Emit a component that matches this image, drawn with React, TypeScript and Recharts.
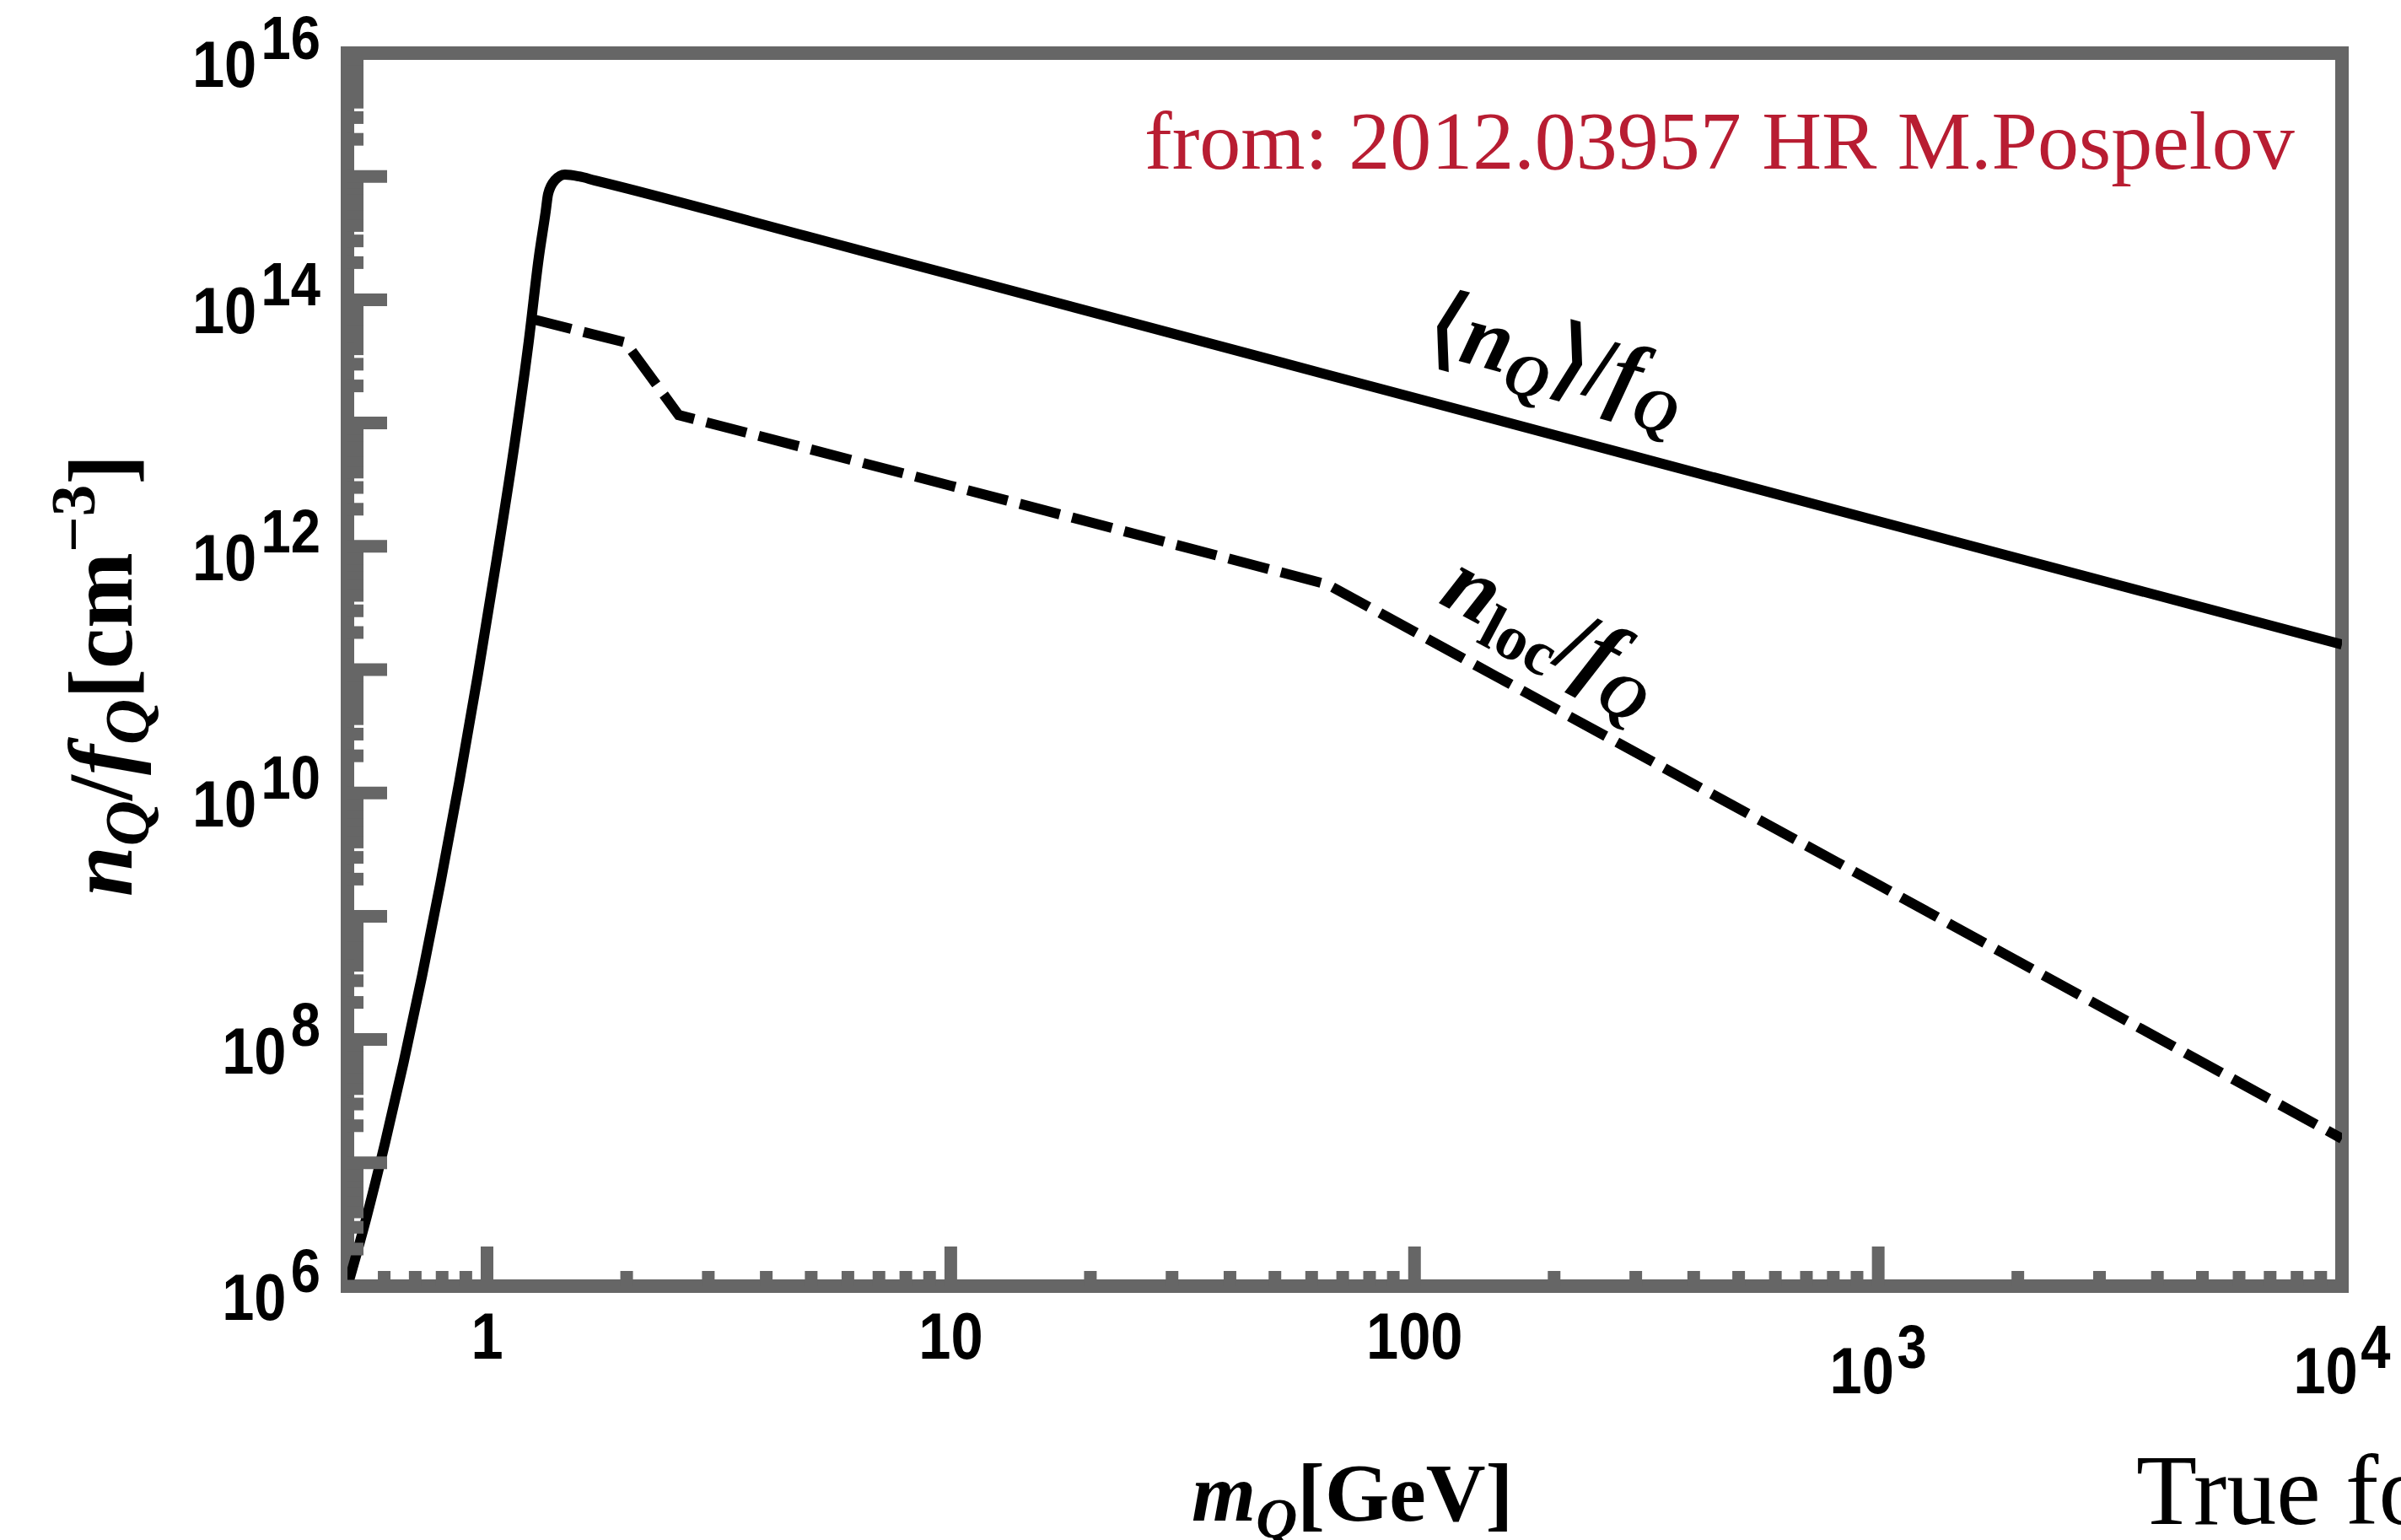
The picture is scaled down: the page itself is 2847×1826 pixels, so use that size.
import React from "react";
import { LineChart, Line, XAxis, YAxis, ReferenceArea } from "recharts";

const W = 2847;
const H = 1826;
const FRAME = "#666666";
const SERIF = "'Liberation Serif', 'Times New Roman', serif";
const SANS = "'Liberation Sans', Arial, sans-serif";

// <n_Q>/f_Q, solid curve (m_Q in GeV, density in cm^-3)
const avgMass = [
  0.5, 0.5495, 0.6026, 0.6607, 0.7244, 0.7943, 0.871, 0.955, 1.047, 1.148, 1.23, 1.293, 1.338,
  1.354, 1.4, 1.472, 1.58, 1.705, 2, 5, 10, 100, 1000, 10000,
];
const avgDensity = [
  1e6, 3.6e6, 1.45e7, 6.5e7, 3.3e8, 1.9e9, 1.23e10, 9.0e10, 7.5e11, 7.0e12, 4.6e13, 2.2e14,
  5.2e14, 7.2e14, 9.3e14, 1.035e15, 1.0e15, 9.3e14, 8.0e14, 3.2e14, 1.6e14, 1.6e13, 1.6e12,
  1.6e11,
];

// n_loc/f_Q, dashed curve
const locMass = [1.245, 1.99, 2.59, 10, 65, 1000, 10000];
const locDensity = [7.0e13, 4.5e13, 1.16e13, 3.1e12, 4.9e11, 1.8e9, 1.57e7];

// axis ticks
const xDecades = [1, 10, 100, 1000];
const xLowMinor = [0.6, 0.7, 0.8, 0.9];
const yDecadeExps = [6, 7, 8, 9, 10, 11, 12, 13, 14, 15];
const minorFactors = [2, 3, 4, 5, 6, 7, 8, 9];

const xTicks = [
  ...xLowMinor,
  ...xDecades.flatMap((d) => [d, ...minorFactors.map((f) => f * d)]),
  10000,
];
const yTicks = [
  ...yDecadeExps.flatMap((e) => [Math.pow(10, e), ...minorFactors.map((f) => f * Math.pow(10, e))]),
  1e16,
];

const avgData = avgMass.map((x, i) => ({ x, y: avgDensity[i] }));
const locData = locMass.map((x, i) => ({ x, y: locDensity[i] }));

const expOf = (v: number) => {
  const e = Math.log10(v);
  const r = Math.round(e);
  return Math.abs(e - r) < 1e-6 ? r : null;
};

const XTick = (props: any) => {
  const { x, y, payload } = props;
  const e = expOf(payload.value);
  const major = e !== null;
  const len = major ? 47 : 18;
  let label: React.ReactNode = null;
  if (major) {
    if (e! <= 2) {
      label = (
        <g transform={`translate(${x},${y + 86}) scale(0.88,1)`}>
          <text textAnchor="middle" fontFamily={SANS} fontWeight="bold" fontSize={78} fill="#000">
            {String(Math.round(payload.value))}
          </text>
        </g>
      );
    } else {
      label = (
        <g transform={`translate(${x},${y + 127}) scale(0.88,1)`}>
          <text textAnchor="middle" fontFamily={SANS} fontWeight="bold" fontSize={78} fill="#000">
            <tspan>10</tspan>
            <tspan dx={4} dy={-30} fontSize={72}>
              {e}
            </tspan>
          </text>
        </g>
      );
    }
  }
  return (
    <g>
      <line x1={x} x2={x} y1={y} y2={y - len} stroke={FRAME} strokeWidth={15} />
      {label}
    </g>
  );
};

const YTick = (props: any) => {
  const { x, y, payload } = props;
  const e = expOf(payload.value);
  const major = e !== null;
  const len = major ? 47 : 19;
  return (
    <g>
      <line x1={x} x2={x + len} y1={y} y2={y} stroke={FRAME} strokeWidth={15} />
      {major && e! % 2 === 0 && (
        <g transform={`translate(${x - 32},${y + 40}) scale(0.88,1)`}>
          <text textAnchor="end" fontFamily={SANS} fontWeight="bold" fontSize={78} fill="#000">
            <tspan>10</tspan>
            <tspan dx={6} dy={-33} fontSize={72}>
              {e}
            </tspan>
          </text>
        </g>
      )}
    </g>
  );
};

export default function App() {
  return (
    <div
      style={{
        position: "absolute",
        left: 0,
        top: 0,
        width: W,
        height: H,
        background: "#fff",
        overflow: "hidden",
      }}
    >
      <LineChart width={W} height={H} margin={{ top: 63, right: 70, left: 0, bottom: 0 }}>
        <XAxis
          dataKey="x"
          type="number"
          scale="log"
          domain={[0.5, 10000]}
          allowDataOverflow
          ticks={xTicks}
          interval={0}
          height={301}
          axisLine={false}
          tickLine={false}
          tickSize={0}
          tickMargin={0}
          tick={<XTick />}
        />
        <YAxis
          dataKey="y"
          type="number"
          scale="log"
          domain={[1e6, 1e16]}
          allowDataOverflow
          ticks={yTicks}
          interval={0}
          width={412}
          axisLine={false}
          tickLine={false}
          tickSize={0}
          tickMargin={0}
          tick={<YTick />}
        />
        <ReferenceArea
          x1={0.5}
          x2={10000}
          y1={1e6}
          y2={1e16}
          fill="none"
          fillOpacity={0}
          stroke={FRAME}
          strokeWidth={16}
          ifOverflow="visible"
        />
        <Line
          data={avgData}
          dataKey="y"
          type="monotone"
          stroke="#000"
          strokeWidth={12}
          strokeLinejoin="round"
          dot={false}
          activeDot={false}
          isAnimationActive={false}
        />
        <Line
          data={locData}
          dataKey="y"
          type="linear"
          stroke="#000"
          strokeWidth={12}
          strokeDasharray="49 15"
          strokeLinecap="butt"
          dot={false}
          activeDot={false}
          isAnimationActive={false}
        />
      </LineChart>

      <svg
        width={W}
        height={H}
        style={{ position: "absolute", left: 0, top: 0, pointerEvents: "none" }}
      >
        <text x={1357} y={200} fontFamily={SERIF} fontSize={98} fill="#B81D32">
          from: 2012.03957 HR M.Pospelov
        </text>

        <text
          transform="translate(156,801) rotate(-90)"
          textAnchor="middle"
          fontFamily={SERIF}
          fontWeight="bold"
          fontSize={108}
          fill="#000"
        >
          <tspan fontStyle="italic">n</tspan>
          <tspan fontStyle="italic" fontSize={75} dy={20}>Q</tspan>
          <tspan dy={-20}>/</tspan>
          <tspan fontStyle="italic">f</tspan>
          <tspan fontStyle="italic" fontSize={75} dy={20}>Q</tspan>
          <tspan dy={-20}>[cm</tspan>
          <tspan fontSize={75} dy={-44}>−3</tspan>
          <tspan dy={44}>]</tspan>
        </text>

        <text x={1413} y={1803} fontFamily={SERIF} fontWeight="bold" fontSize={98} fill="#000">
          <tspan fontStyle="italic">m</tspan>
          <tspan fontStyle="italic" fontSize={68} dy={20}>Q</tspan>
          <tspan dy={-20}>[GeV]</tspan>
        </text>

        <text x={2533} y={1807} fontFamily={SERIF} fontSize={118} fill="#000">
          True fo
        </text>

        <text
          transform="translate(1688,417) rotate(15)"
          fontFamily={SERIF}
          fontWeight="bold"
          fontSize={106}
          fill="#000"
        >
          <tspan>⟨</tspan>
          <tspan fontStyle="italic">n</tspan>
          <tspan fontStyle="italic" fontSize={72} dy={20}>Q</tspan>
          <tspan dy={-20}>⟩/</tspan>
          <tspan fontStyle="italic">f</tspan>
          <tspan fontStyle="italic" fontSize={72} dy={20}>Q</tspan>
        </text>

        <text
          transform="translate(1704,714) rotate(28)"
          fontFamily={SERIF}
          fontWeight="bold"
          fontSize={110}
          fill="#000"
        >
          <tspan fontStyle="italic">n</tspan>
          <tspan fontSize={75} dy={20}>loc</tspan>
          <tspan dy={-20}>/</tspan>
          <tspan fontStyle="italic">f</tspan>
          <tspan fontStyle="italic" fontSize={75} dy={20}>Q</tspan>
        </text>
      </svg>
    </div>
  );
}
